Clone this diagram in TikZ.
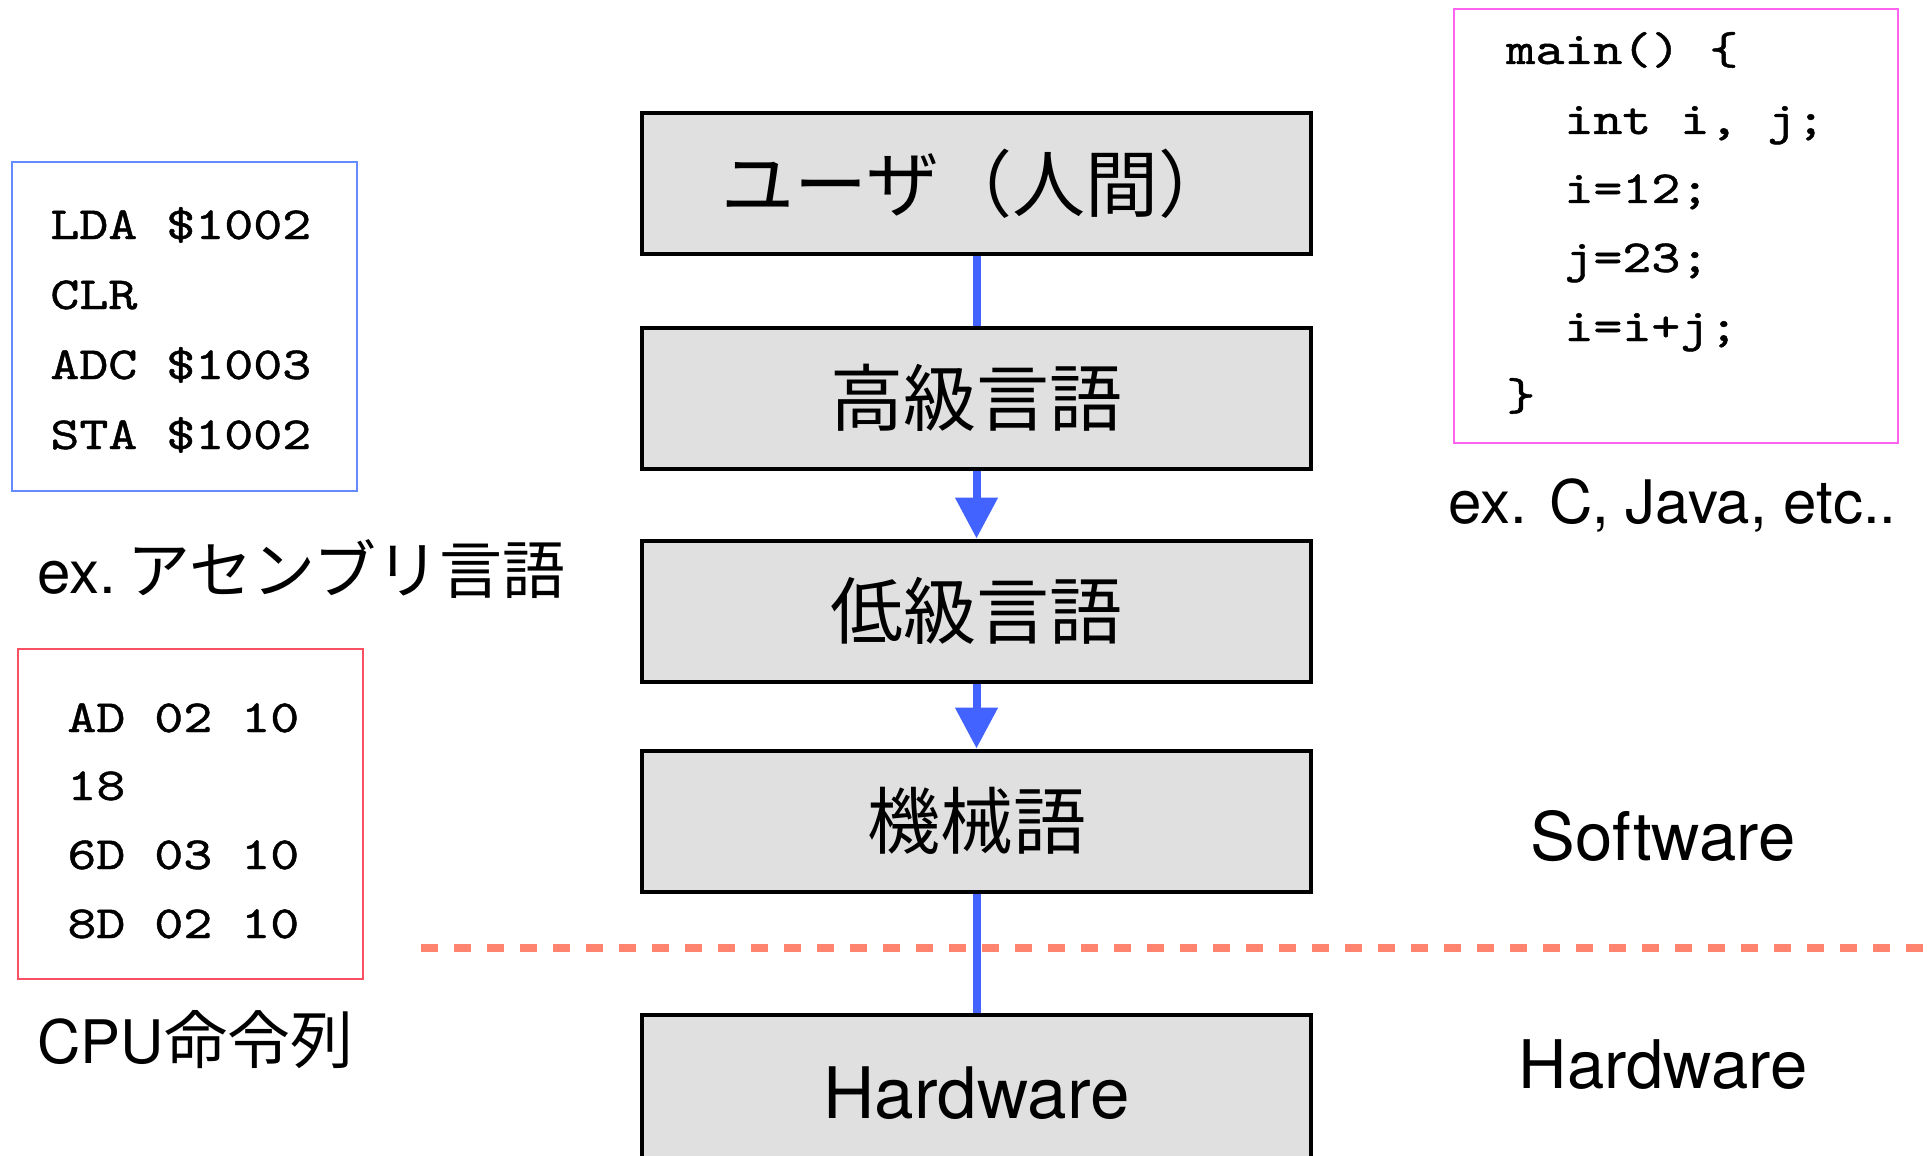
\documentclass[tikz,border=0pt]{standalone}
\usepackage{fontspec}
\setmainfont{TeX Gyre Heros}
\newfontfamily\jp{Noto Sans CJK JP}
\newfontfamily\code{lmmono10-regular.otf}[FakeStretch=1.2,FakeBold=1]
\usetikzlibrary{arrows.meta}
\definecolor{boxgray}{RGB}{224,224,224}
\definecolor{linkblue}{RGB}{66,99,255}
\definecolor{dashsalmon}{RGB}{255,132,112}
\definecolor{asmblue}{RGB}{100,140,255}
\definecolor{hexred}{RGB}{250,80,100}
\definecolor{cpink}{RGB}{255,100,240}
\newcommand{\jpcap}{\jp\fontsize{31.5}{36}\selectfont}
\begin{document}
\begin{tikzpicture}[x=0.5pt,y=-0.5pt,
  box/.style={draw=black, line width=2pt, fill=boxgray, minimum width=334.5pt, minimum height=70.5pt, inner sep=0pt},
  jpbig/.style={font=\jp\fontsize{36.5}{42}\selectfont},
  codeline/.style={anchor=base west, inner sep=0pt, font=\code\fontsize{23}{28}\selectfont},
  caption/.style={anchor=base west, inner sep=0pt, font=\fontsize{30}{36}\selectfont},
  side/.style={anchor=base, inner sep=0pt, font=\fontsize{33.5}{40}\selectfont},
  link/.style={draw=linkblue, line width=4pt},
  arrowlink/.style={link, -{Triangle[length=20.5pt,width=20.5pt]}},
  dashline/.style={draw=dashsalmon, line width=4pt, dash pattern=on 8.5pt off 8pt}
]
\useasboundingbox (0,0) rectangle (1930,1155);
\fill[white] (0,0) rectangle (1930,1155);

% code frames
\draw[asmblue, line width=1pt] (12,162) rectangle (357,491);
\draw[hexred, line width=1pt] (18,649) rectangle (363,979);
\draw[cpink, line width=1pt] (1454,9) rectangle (1898,443);

% assembly
\node[codeline] (a1) at (50,239) {LDA \$1002};
\node[codeline] (a2) at (50,309) {CLR};
\node[codeline] (a3) at (50,379) {ADC \$1003};
\node[codeline] (a4) at (50,449) {STA \$1002};
\node[caption] (asmcap) at (37,593) {ex.\hspace{6pt}{\jpcap アセンブリ言語}};

% machine code
\node[codeline] (h1) at (67,732) {AD 02 10};
\node[codeline] (h2) at (67,800) {18};
\node[codeline] (h3) at (67,869) {6D 03 10};
\node[codeline] (h4) at (67,938) {8D 02 10};
\node[caption] (cpucap) at (37,1063) {CPU{\jpcap 命令列}};

% C code
\node[codeline] (c1) at (1506,64) {main() \{};
\node[codeline] (c2) at (1564,134) {int i, j;};
\node[codeline] (c3) at (1564,203) {i=12;};
\node[codeline] (c4) at (1564,272) {j=23;};
\node[codeline] (c5) at (1564,341) {i=i+j;};
\node[codeline] (c6) at (1506,410) {\}};
\node[caption] (ccap) at (1448,523) {ex. C, Java, etc..};

% separator
\draw[dashline] (421,948) -- (1930,948);

% central boxes
\node[box, jpbig] (b1) at (976.5,183.5) {ユーザ（人間）};
\node[box, jpbig] (b2) at (976.5,398) {高級言語};
\node[box, jpbig] (b3) at (976.5,611) {低級言語};
\node[box, jpbig] (b4) at (976.5,821) {機械語};
\node[box, minimum height=78pt, font=\fontsize{35.5}{42}\selectfont] (b5) at (976.5,1093) {Hardware};

% connectors
\draw[link] (b1.south) -- (b2.north);
\draw[arrowlink] (b2.south) -- (b3.north);
\draw[arrowlink] (b3.south) -- (b4.north);
\draw[link] (b4.south) -- (b5.north);

% side labels
\node[side] (sw) at (1663,860) {Software};
\node[side] (hw) at (1663,1088) {Hardware};
\end{tikzpicture}
\end{document}
